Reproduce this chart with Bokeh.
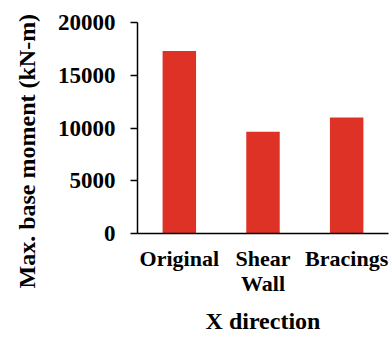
from bokeh.plotting import figure
from bokeh.models import (FactorRange, Range1d, FixedTicker, CategoricalAxis,
                          CustomJSTickFormatter, Title)
from bokeh.embed import file_html
from bokeh.resources import INLINE

categories = ["Original", "Shear Wall", "Bracings"]
values = [17300, 9650, 11000]
y_ticks = [0, 5000, 10000, 15000, 20000]
y_title = "Max. base moment (kN-m)"
x_title = "X direction"

p = figure(x_range=FactorRange(*categories, range_padding=0), y_range=Range1d(0, 20000),
           width=390, height=339, output_backend="svg", toolbar_location=None,
           min_border_left=135, min_border_right=2, min_border_top=22, min_border_bottom=106)

p.vbar(x=categories, top=values, width=0.4, color="#DE3226", line_color=None)

FONT = "Liberation Serif"
p.xgrid.visible = False
p.ygrid.visible = False
p.outline_line_color = None

# second line of category labels (e.g. "Wall" of "Shear Wall")
x2 = CategoricalAxis()
p.add_layout(x2, "below")

p.yaxis.ticker = FixedTicker(ticks=y_ticks)
p.xaxis[0].formatter = CustomJSTickFormatter(code="return String(tick).split(' ')[0];")
x2.formatter = CustomJSTickFormatter(
    code="var s = String(tick).split(' '); return s.length > 1 ? s.slice(1).join(' ') : '';")
x2.axis_label = x_title

for ax in (p.xaxis[0], x2, p.yaxis[0]):
    ax.axis_line_color = "black"
    ax.axis_line_width = 1.5
    ax.major_label_text_font = FONT
    ax.major_label_text_font_style = "bold"
    ax.major_label_text_color = "black"
    ax.axis_label_text_font = FONT
    ax.axis_label_text_font_style = "bold"
    ax.axis_label_text_font_size = "24px"
    ax.axis_label_text_color = "black"
    ax.minor_tick_line_color = None
    ax.major_tick_in = 0

p.yaxis.major_label_text_font_size = "23px"
p.yaxis.major_tick_out = 7
p.yaxis.major_tick_line_width = 1.5
p.yaxis.major_tick_line_color = "black"
p.yaxis.major_label_standoff = 15

x1 = p.xaxis[0]
x1.major_label_text_font_size = "22px"
x1.major_tick_out = 0
x1.major_tick_line_color = None
x1.major_label_standoff = 12

x2.major_label_text_font_size = "22px"
x2.axis_line_color = None
x2.major_tick_out = 0
x2.major_tick_line_color = None
x2.major_label_standoff = -3
x2.axis_label_standoff = 9

# y-axis title, placed in the left border panel
p.add_layout(Title(text=y_title, align="left", offset=-55, standoff=26,
                   vertical_align="top", text_font=FONT, text_font_style="bold",
                   text_font_size="24px", text_color="black"), "left")

open("out.html", "w").write(file_html(p, INLINE))
